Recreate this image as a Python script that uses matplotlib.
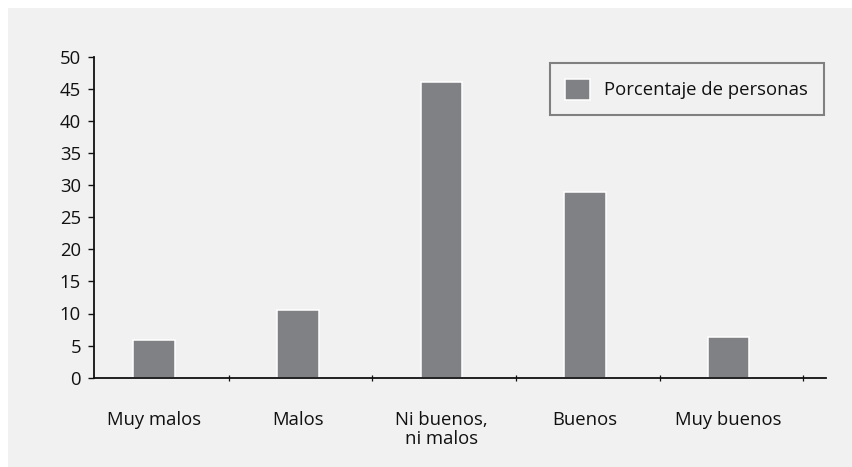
import matplotlib
matplotlib.use("Agg")
import matplotlib.pyplot as plt
from matplotlib.patches import Rectangle
import numpy as np

categories = ["Muy malos", "Malos", "Ni buenos,\nni malos", "Buenos", "Muy buenos"]
values = [5.9, 10.5, 46.0, 28.9, 6.3]
series_name = "Porcentaje de personas"
y_ticks = [0, 5, 10, 15, 20, 25, 30, 35, 40, 45, 50]

BG = "#f1f1f1"
BAR = "#808185"
TXT = "#111111"

plt.rcParams["font.family"] = ["Open Sans", "DejaVu Sans"]
plt.rcParams["font.size"] = 13.3

fig = plt.figure(figsize=(8.53, 4.67), dpi=100, facecolor="white")
# light grey panel behind the chart
fig.add_artist(Rectangle((8 / 853, 0.0), 1.0, 1 - 8 / 467,
                         transform=fig.transFigure, facecolor=BG,
                         edgecolor="none", zorder=-10))

ax = fig.add_axes([94 / 853, 1 - 377.7 / 467, (826 - 94) / 853, 321 / 467])
ax.set_facecolor("none")

x = np.arange(len(categories))
ax.bar(x, values, width=0.29, color=BAR, edgecolor="white", linewidth=1.1,
       label=series_name, zorder=2)

ax.set_xlim(-0.42, 4.68)
ax.set_ylim(0, 50)
ax.set_yticks(y_ticks)
ax.tick_params(axis="y", direction="out", length=4.3, width=1.0, pad=5.0,
               colors=TXT, labelcolor=TXT)

# boundary ticks on x, labels centred under bars
ax.set_xticks(x + 0.52)
ax.set_xticklabels([])
ax.tick_params(axis="x", which="major", direction="inout", length=5, width=0.9,
               colors=TXT)
ax.set_xticks(x, minor=True)
ax.set_xticklabels(categories, minor=True, color=TXT, linespacing=1.05)
ax.tick_params(axis="x", which="minor", length=0, pad=24)

for s in ("top", "right"):
    ax.spines[s].set_visible(False)
for s in ("left", "bottom"):
    ax.spines[s].set_linewidth(1.3)
    ax.spines[s].set_color(TXT)
    ax.spines[s].set_zorder(3)

leg = ax.legend(loc="upper right", bbox_to_anchor=(0.997, 0.980),
                borderaxespad=0, fancybox=False, frameon=True,
                facecolor=BG, edgecolor="#808080", framealpha=1,
                handlelength=1.35, handleheight=1.35, handletextpad=0.75,
                borderpad=0.85)
leg.get_frame().set_linewidth(1.5)
for t in leg.get_texts():
    t.set_color(TXT)

fig.savefig("out.png", dpi=100, facecolor="white")
